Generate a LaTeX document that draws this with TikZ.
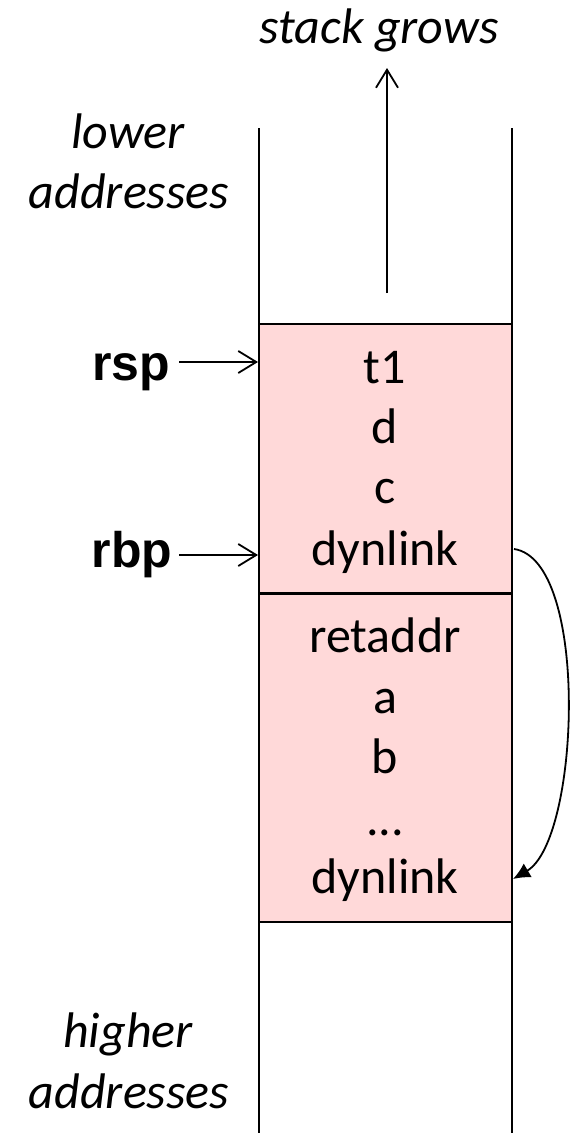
\documentclass[tikz,border=0pt]{standalone}
\usepackage{fontspec}
\setmainfont{Carlito}
\newfontfamily\arialfont{Liberation Sans}
\usetikzlibrary{arrows.meta}
\definecolor{boxpink}{RGB}{255,217,217}
\begin{document}
\begin{tikzpicture}[x=1pt,y=-1pt, line width=2pt,
  cell/.style={font=\fontsize{50}{60}\selectfont, anchor=base, inner sep=0pt},
  side/.style={font=\fontsize{50}{60}\selectfont\itshape, anchor=base, inner sep=0pt},
  reg/.style={font=\fontsize{50}{60}\selectfont\arialfont\bfseries, anchor=base, inner sep=0pt},
  frame/.style={draw, fill=boxpink, minimum width=253pt, inner sep=0pt},
  barb/.style={-{Straight Barb[length=18pt,width=22pt,line width=1.8pt]}},
  link/.style={line width=1.8pt, -{Latex[length=17pt,width=16pt]}}
]
\useasboundingbox (0,0) rectangle (571,1133);
% walls
\coordinate (lt) at (259,128);
\coordinate (lb) at (259,1133);
\coordinate (rt) at (512,128);
\coordinate (rb) at (512,1133);
\draw (lt) -- (lb);
\draw (rt) -- (rb);
% frames
\node[frame, minimum height=269pt] (top) at (385.5,458.5) {};
\node[frame, minimum height=328pt] (bot) at (385.5,757.5) {};
% cells
\node[cell] (t1) at (385,383) {t1};
\node[cell] (d) at (385,443) {d};
\node[cell] (c) at (385,503) {c};
\node[cell] (dl1) at (385,565) {dynlink};
\node[cell] (ret) at (385,652) {retaddr};
\node[cell] (a) at (385,713) {a};
\node[cell] (b) at (385,773) {b};
\node[cell] (dots) at (385,835) {...};
\node[cell] (dl2) at (385,893) {dynlink};
% side labels
\node[side] (grows) at (379,43) {stack grows};
\node[side] (lower1) at (128,148) {lower};
\node[side] (lower2) at (129,208) {addresses};
\node[side] (higher1) at (128,1047) {higher};
\node[side] (higher2) at (129,1108) {addresses};
% registers
\node[reg] (rsp) at (131,380) {rsp};
\node[reg] (rbp) at (132,567) {rbp};
% arrows
\coordinate (gb) at (387,293);
\coordinate (gt) at (387,68);
\draw[barb] (gb) -- (gt);
\coordinate (rspS) at (179,362);
\coordinate (rbpS) at (179,555);
\draw[barb] (rspS) -- (rspS -| top.west);
\draw[barb] (rbpS) -- (rbpS -| top.west);
% dynamic link
\coordinate (ls) at (514,549);
\coordinate (le) at (513,879);
\draw[link] (ls) .. controls (590,560) and (580,840) .. (le);
\end{tikzpicture}
\end{document}
